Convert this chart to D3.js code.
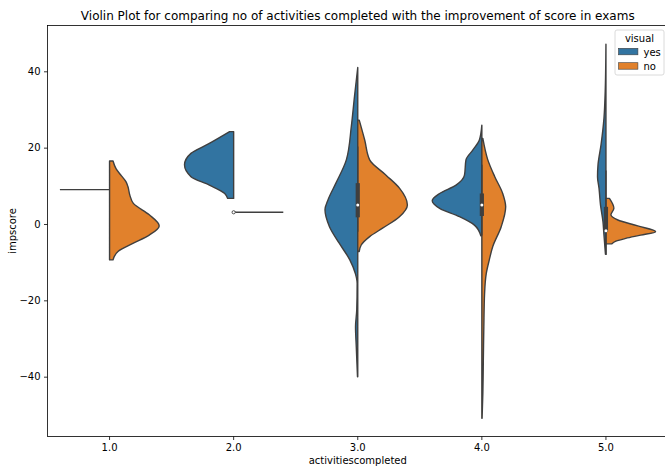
<!DOCTYPE html>
<html>
<head>
<meta charset="utf-8">
<script src="https://cdn.jsdelivr.net/npm/d3@7"></script>
<style>
  body { margin: 0; background: #fff; }
  text { font-family: "DejaVu Sans", sans-serif; fill: #000; }
</style>
</head>
<body>
<svg width="665" height="467"></svg>
<script>
//Categories on the x axis and the two hue levels
const categories = ["1.0", "2.0", "3.0", "4.0", "5.0"];
const hues = ["yes", "no"];
const yTicks = [-40, -20, 0, 20, 40];

//Half violin outlines: [impscore, relative half width]
const no1 = [[16.5,0.07],[14.5,0.13],[12.6,0.24],[11.1,0.33],[9.8,0.37],[7.5,0.41],[5.4,0.48],[2.4,0.8],[-0.5,1.0],[-2.9,0.8],[-5.1,0.47],[-7.2,0.17],[-9.4,0.07]];
const yes2 = [[24.2,0.08],[21.1,0.49],[18.5,0.86],[15.5,0.99],[12.4,0.86],[10.2,0.49],[8.0,0.18],[6.7,0.12]];
const yes3 = [[41.0,0.0],[33.4,0.066],[25.5,0.13],[16.8,0.23],[10.7,0.44],[6.3,0.6],[3.7,0.66],[-0.7,0.57],[-5.1,0.37],[-9.4,0.16],[-12.9,0.05],[-15.5,0.012],[-22.5,0.02],[-26.9,0.045],[-32.1,0.03],[-40.0,0.005]];
const no3 = [[27.2,0.03],[22.0,0.14],[16.8,0.24],[12.8,0.57],[9.4,0.84],[5.0,1.0],[1.9,0.84],[-1.1,0.5],[-3.3,0.24],[-5.5,0.07],[-7.2,0.03]];
const yes4 = [[25.9,0.0],[22.0,0.05],[19.4,0.18],[16.8,0.32],[12.8,0.35],[10.2,0.52],[8.0,0.85],[6.1,1.0],[4.1,0.85],[1.9,0.45],[-0.3,0.15],[-3.1,0.02]];
const no4 = [[22.4,0.02],[16.8,0.12],[12.4,0.26],[8.0,0.42],[4.5,0.48],[-0.7,0.39],[-5.9,0.22],[-9.4,0.15],[-12.9,0.09],[-18.2,0.055],[-26.9,0.04],[-35.6,0.03],[-44.4,0.02],[-50.9,0.005]];
const yes5 = [[47.1,0.0],[34.7,0.015],[27.7,0.04],[20.7,0.1],[15.5,0.16],[12.4,0.17],[9.4,0.14],[5.0,0.11],[0.6,0.06],[-2.9,0.04],[-7.9,0.01]];
const no5 = [[6.7,0.07],[4.1,0.16],[2.4,0.1],[1.05,0.24],[-0.5,0.64],[-2.0,1.0],[-2.9,0.7],[-3.75,0.4],[-4.5,0.2],[-5.2,0.12]];

const halfCats = ["1.0", "2.0", "3.0", "3.0", "4.0", "4.0", "5.0", "5.0"];
const halfHues = ["no", "yes", "yes", "no", "yes", "no", "yes", "no"];
const halfShapes = [no1, yes2, yes3, no3, yes4, no4, yes5, no5];

//Groups with only one observation are drawn as a line
const singleCats = ["1.0", "2.0"];
const singleHues = ["yes", "no"];
const singleValues = [9.0, 3.07];

//Inner box of the violins
const boxCats = ["3.0", "4.0", "5.0"];
const q1 = [1.75, 2.1, -2.0];
const q3 = [10.7, 8.0, 4.5];
const medians = [5.0, 5.0, -1.8];
const whiskLo = [-2.0, -3.0, -8.1];
const whiskHi = [20.3, 15.5, 14.0];
const dotCats = ["2.0"];
const dotValues = [3.07];

const colors = {yes: "#3274a1", no: "#e1812c"};
const edge = "#3f3f3f";

let svg = d3.select("svg"),
    margin = {top: 25.5, left: 47.5, right: 668, bottom: 436.5};

let x = d3.scaleBand().domain(categories).range([margin.left, margin.right]);
let y = d3.scaleLinear().domain([-55.67, 52.0]).range([margin.bottom, margin.top]);
let half = x.bandwidth() * 0.4;
let cx = c => x(c) + x.bandwidth() / 2;
let side = h => h == "yes" ? -1 : 1;

let plot = svg.append("g");

//Draw each half violin
halfShapes.forEach(function(shape, i){
  let c = cx(halfCats[i]), s = side(halfHues[i]);
  let area = d3.area()
      .y(d => y(d[0]))
      .x0(c)
      .x1(d => c + s * d[1] * half)
      .curve(d3.curveMonotoneY);
  plot.append("path")
      .attr("d", area(shape) + "Z")
      .attr("fill", colors[halfHues[i]])
      .attr("stroke", edge)
      .attr("stroke-width", 1.4)
      .attr("stroke-linejoin", "round");
});

//Single observations
singleValues.forEach(function(v, i){
  let c = cx(singleCats[i]), s = side(singleHues[i]);
  plot.append("line")
      .attr("x1", c).attr("x2", c + s * half)
      .attr("y1", y(v)).attr("y2", y(v))
      .attr("stroke", edge)
      .attr("stroke-width", 1.4);
});

//Inner boxes: whisker, box and median
boxCats.forEach(function(cat, i){
  let c = cx(cat);
  plot.append("line")
      .attr("x1", c).attr("x2", c)
      .attr("y1", y(whiskHi[i])).attr("y2", y(whiskLo[i]))
      .attr("stroke", edge).attr("stroke-width", 1.4);
  plot.append("line")
      .attr("x1", c).attr("x2", c)
      .attr("y1", y(q3[i])).attr("y2", y(q1[i]))
      .attr("stroke", edge).attr("stroke-width", 4.2);
  plot.append("circle")
      .attr("cx", c).attr("cy", y(medians[i]))
      .attr("r", 1.5)
      .attr("fill", "#fff");
});

dotValues.forEach(function(v, i){
  plot.append("circle")
      .attr("cx", cx(dotCats[i])).attr("cy", y(v))
      .attr("r", 1.6)
      .attr("fill", "#fff")
      .attr("stroke", edge)
      .attr("stroke-width", 0.9);
});

//Axes
let yAxis = d3.axisLeft(y).tickValues(yTicks).tickSize(3.5).tickPadding(3.5)
    .tickFormat(d => d < 0 ? "\u2212" + Math.abs(d) : d);
let xAxis = d3.axisBottom(x).tickSize(3.5).tickPadding(3.5);

let gy = svg.append("g")
    .attr("transform", "translate(" + margin.left + ",0)")
    .call(yAxis);
let gx = svg.append("g")
    .attr("transform", "translate(0," + margin.bottom + ")")
    .call(xAxis);
[gx, gy].forEach(function(g){
  g.select(".domain").remove();
  g.selectAll(".tick line").attr("stroke", "#000").attr("stroke-width", 0.8);
  g.selectAll(".tick text").attr("font-size", 10).attr("fill", "#000")
   .attr("font-family", "DejaVu Sans");
});

//Frame
svg.append("rect")
    .attr("x", margin.left).attr("y", margin.top)
    .attr("width", margin.right - margin.left)
    .attr("height", margin.bottom - margin.top)
    .attr("fill", "none")
    .attr("stroke", "#000")
    .attr("stroke-width", 0.8);

//Titles
svg.append("text")
    .attr("x", (margin.left + margin.right) / 2).attr("y", 19.5)
    .attr("text-anchor", "middle").attr("font-size", 12)
    .text("Violin Plot for comparing no of activities completed with the improvement of score in exams");
svg.append("text")
    .attr("x", (margin.left + margin.right) / 2).attr("y", 464)
    .attr("text-anchor", "middle").attr("font-size", 10)
    .text("activitiescompleted");
svg.append("text")
    .attr("transform", "translate(16," + (margin.top + margin.bottom) / 2 + ") rotate(-90)")
    .attr("text-anchor", "middle").attr("font-size", 10)
    .text("impscore");

//Legend
let legend = svg.append("g");
legend.append("rect")
    .attr("x", 615).attr("y", 30).attr("width", 49).attr("height", 45)
    .attr("rx", 2)
    .attr("fill", "#fff").attr("fill-opacity", 0.8)
    .attr("stroke", "#d0d0d0").attr("stroke-width", 0.8);
legend.append("text")
    .attr("x", 639.5).attr("y", 42)
    .attr("text-anchor", "middle").attr("font-size", 10)
    .text("visual");
hues.forEach(function(h, i){
  legend.append("rect")
      .attr("x", 618.5).attr("y", 48.3 + i * 14.4)
      .attr("width", 19.4).attr("height", 6.5)
      .attr("fill", colors[h])
      .attr("stroke", edge).attr("stroke-width", 0.6);
  legend.append("text")
      .attr("x", 643.5).attr("y", 55.8 + i * 14.4)
      .attr("font-size", 10)
      .text(h);
});
</script>
</body>
</html>
